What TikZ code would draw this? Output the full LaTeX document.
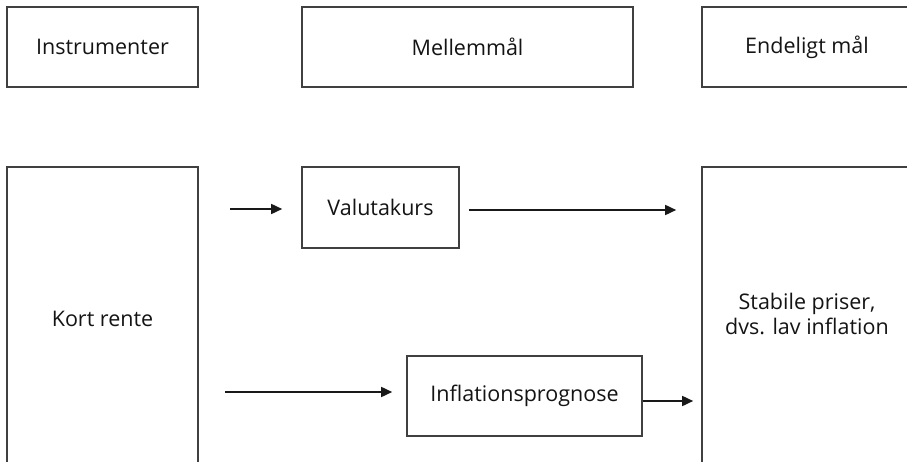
\documentclass[tikz,border=0pt]{standalone}
\usepackage{fontspec}
\setmainfont{Open Sans}
\usetikzlibrary{arrows.meta}
\begin{document}
\begin{tikzpicture}[x=1pt,y=-1pt,
  lbl/.style={font=\fontsize{21.5}{25}\selectfont, text=black!92, align=center},
  box/.style={lbl, draw=black!75, line width=1.6pt, rectangle, inner sep=0pt},
  arr/.style={draw=black!90, line width=1.6pt, -{Triangle[length=11pt,width=10pt]}}]
  \path[use as bounding box, clip] (0,0) rectangle (907,462);
  % column headings
  \node[box, minimum width=191, minimum height=80] (instr) at (102.5,47) {Instrumenter};
  \node[box, minimum width=331, minimum height=80] (mellem) at (467.5,47) {Mellemmål};
  \node[box, minimum width=210, minimum height=80] (endelig) at (807,47) {Endeligt mål};
  % instrument and goal (both run on below the lower edge)
  \node[box, minimum width=191, minimum height=303] (kort) at (102.5,318.5) {Kort rente};
  \node[box, minimum width=210, minimum height=303] (stabil) at (807,318.5) {};
  \node[lbl] (stabiltxt) at (807,314) {Stabile priser,\\dvs. lav inflation};
  % intermediate targets
  \node[box, minimum width=157, minimum height=81] (valuta) at (380.5,207.5) {Valutakurs};
  \node[box, minimum width=235, minimum height=80] (infl) at (524.5,396) {Inflationsprognose};
  % channels
  \coordinate (s1) at (230,209);
  \coordinate (s3) at (225,392);
  \draw[arr, shorten >=19pt] (s1) -- (s1 -| valuta.west);
  \draw[arr, shorten <=9pt, shorten >=25pt] (valuta.east |- 0,210) -- (stabil.west |- 0,210);
  \draw[arr, shorten >=14pt] (s3) -- (s3 -| infl.west);
  \draw[arr, shorten >=8pt] (infl.east |- 0,401) -- (stabil.west |- 0,401);
\end{tikzpicture}
\end{document}
